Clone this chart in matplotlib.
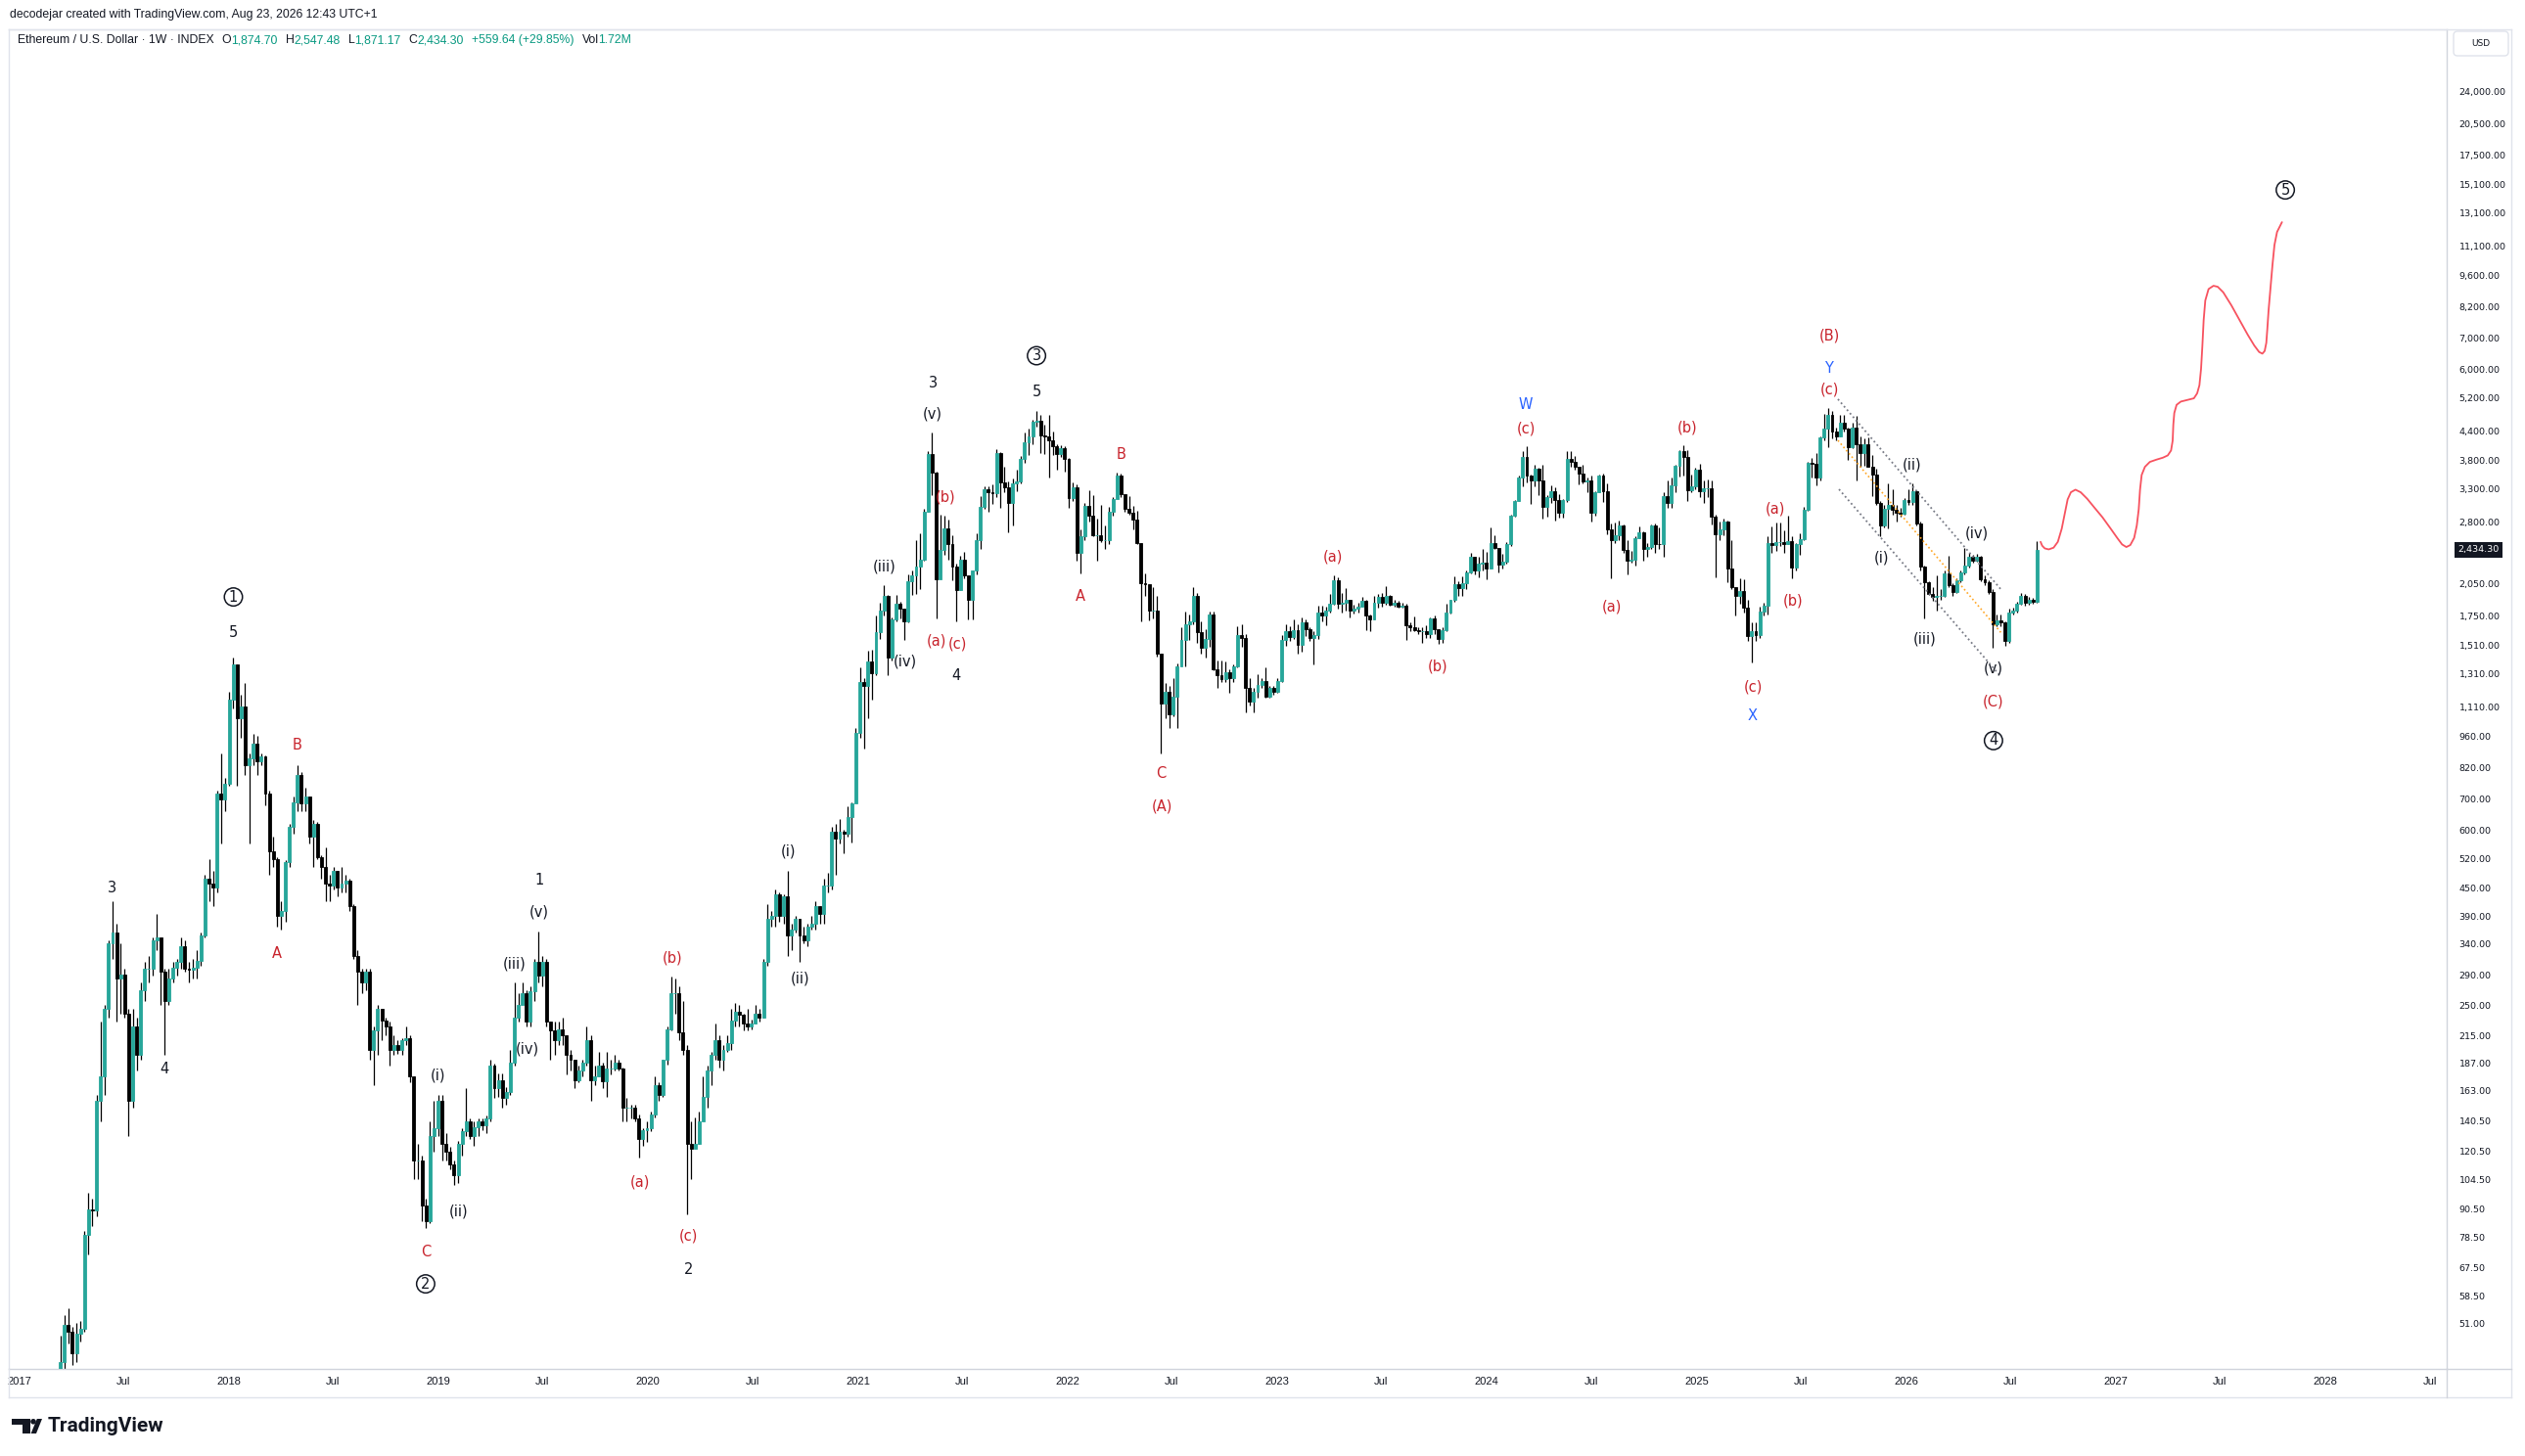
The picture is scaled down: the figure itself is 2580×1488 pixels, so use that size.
import matplotlib
matplotlib.use('Agg')
import matplotlib.pyplot as plt
import matplotlib.dates as mdates
from matplotlib.ticker import NullLocator
from matplotlib.patches import Polygon, Circle, FancyBboxPatch
from matplotlib.lines import Line2D
from matplotlib.transforms import IdentityTransform, blended_transform_factory
from datetime import date, timedelta

# ---------------- weekly OHLC data (open = previous close) ----------------
first_open = 8.2

c2017 = [10.2, 9.8, 10.6, 10.6, 11.3, 11.4, 12.8, 13.3, 19.1, 28.6, 42.0, 50.5, 49.0,
         43.8, 48.5, 49.5, 79.5, 90.0, 89.5, 155, 175, 245, 340, 360, 285, 292,
         240, 155, 225, 195, 270, 300, 300, 345, 350, 295, 255, 285, 302,
         310, 335, 300, 298, 302, 312, 355, 470, 460, 450, 720, 700, 755]
h2017 = [11.0, 10.9, 11.1, 11.0, 11.5, 11.7, 13.0, 13.8, 19.5, 29.5, 48.0, 53.0, 55.0,
         50.0, 51.0, 51.5, 81.0, 98.0, 95.0, 160, 230, 250, 345, 420, 375, 340,
         300, 245, 245, 235, 280, 310, 320, 350, 395, 340, 300, 300, 310,
         315, 350, 345, 310, 315, 330, 360, 480, 520, 490, 730, 880, 780]
l2017 = [7.9, 9.5, 9.6, 10.3, 10.6, 10.8, 11.4, 12.4, 15.3, 17.8, 28.0, 36.0, 46.0,
         41.5, 42.0, 46.5, 49.0, 72.0, 83.0, 87.0, 140, 160, 235, 315, 230, 240,
         235, 130, 150, 180, 190, 255, 280, 290, 330, 250, 195, 250, 280,
         290, 300, 295, 280, 285, 285, 305, 350, 420, 410, 440, 560, 660]

c2018 = [1150, 1375, 1050, 1110, 830, 860, 925, 845, 865, 720, 540, 520, 390,
         400, 510, 610, 690, 790, 685, 710, 580, 620, 525, 500, 460, 455,
         490, 450, 460, 465, 410, 320, 295, 280, 295, 200, 220, 245, 232,
         225, 200, 205, 200, 210, 212, 175, 115, 115, 92, 85, 130, 135, 155]
h2018 = [1200, 1420, 1375, 1180, 1250, 880, 970, 960, 880, 870, 730, 580, 525,
         420, 515, 620, 710, 830, 800, 740, 710, 630, 625, 530, 550, 480,
         500, 490, 500, 480, 470, 415, 330, 300, 300, 300, 225, 250, 245,
         235, 230, 215, 210, 212, 225, 215, 175, 125, 118, 95, 140, 155, 160]
l2018 = [750, 1100, 750, 950, 790, 560, 830, 790, 830, 680, 480, 500, 370,
         365, 380, 500, 590, 660, 660, 660, 560, 500, 520, 470, 420, 420,
         445, 430, 440, 440, 400, 315, 250, 265, 270, 190, 168, 195, 210,
         215, 185, 195, 196, 195, 205, 170, 105, 105, 85, 82, 84, 120, 130]

c2019 = [125, 120, 113, 107, 125, 133, 140, 130, 136, 140, 137, 142,
         185, 165, 172, 157, 162, 188, 235, 250, 265, 230, 268, 310, 290,
         310, 230, 220, 210, 222, 215, 195, 190, 172, 180, 188, 210, 172, 175,
         185, 171, 182, 182, 188, 182, 150, 150, 150, 142, 128, 134, 135]
h2019 = [160, 132, 123, 115, 127, 135, 165, 142, 140, 142, 142, 144,
         190, 187, 178, 178, 166, 200, 280, 265, 280, 270, 275, 315, 362,
         320, 315, 230, 230, 230, 235, 215, 200, 190, 185, 190, 225, 215, 185,
         198, 188, 198, 190, 195, 190, 183, 157, 152, 152, 145, 135, 140]
l2019 = [115, 115, 110, 102, 103, 118, 130, 128, 124, 130, 134, 132,
         140, 157, 158, 150, 152, 160, 185, 230, 255, 225, 225, 255, 280,
         275, 225, 190, 195, 205, 205, 177, 180, 165, 170, 175, 185, 155, 168,
         175, 165, 158, 177, 180, 180, 140, 140, 142, 140, 117, 124, 126]

c2020 = [145, 168, 160, 190, 222, 265, 265, 218, 200, 125, 122, 125, 140,
         158, 180, 195, 210, 190, 200, 207, 232, 242, 238, 228, 225, 228,
         240, 235, 310, 385, 390, 435, 390, 430, 355, 365, 385, 355, 345,
         370, 375, 410, 395, 455, 455, 595, 575, 595, 590, 640, 685, 975]
h2020 = [147, 175, 170, 190, 225, 288, 285, 275, 255, 205, 140, 143, 147,
         175, 185, 198, 228, 215, 205, 215, 245, 253, 250, 240, 245, 233,
         250, 245, 315, 415, 400, 445, 440, 435, 490, 375, 390, 385, 370,
         375, 390, 420, 410, 470, 485, 610, 620, 635, 600, 675, 690, 1000]
l2020 = [133, 143, 155, 158, 186, 220, 240, 210, 195, 88, 105, 124, 125,
         145, 150, 168, 190, 183, 180, 198, 200, 225, 225, 220, 220, 222,
         228, 230, 235, 305, 370, 370, 380, 375, 320, 330, 360, 310, 340,
         335, 365, 365, 375, 375, 440, 445, 480, 560, 535, 580, 565, 690]

c2021 = [1260, 1230, 1390, 1315, 1615, 1800, 1930, 1420, 1720, 1855, 1810, 1700, 2080,
         2140, 2240, 2320, 2950, 3920, 3580, 2100, 2430, 2710, 2510, 2240, 1990, 2320,
         2140, 1900, 2190, 2555, 3010, 3300, 3240, 3230, 3940, 3410, 3330, 3070, 3390,
         3420, 3840, 4170, 4290, 4610, 4650, 4320, 4290, 4200, 4090, 3920, 4050, 3830]
h2021 = [1350, 1280, 1470, 1480, 1750, 1870, 2040, 1940, 1740, 1945, 1880, 1815, 2150,
         2190, 2550, 2640, 2990, 3980, 4380, 3600, 2900, 2890, 2830, 2620, 2270, 2360,
         2410, 2040, 2200, 2640, 3180, 3335, 3340, 3370, 4030, 3970, 3680, 3430, 3480,
         3640, 3890, 4370, 4460, 4670, 4870, 4770, 4550, 4780, 4400, 4120, 4100, 4090]
l2021 = [950, 900, 1050, 1150, 1300, 1560, 1750, 1300, 1400, 1700, 1730, 1550, 1690,
         1940, 1950, 2000, 2300, 2950, 3200, 1730, 2170, 2370, 2320, 2090, 1700, 1990,
         2110, 1720, 1720, 2150, 2450, 2990, 2950, 3060, 3160, 3000, 3240, 2650, 2750,
         3260, 3400, 3750, 3900, 4130, 4500, 3950, 3920, 3500, 3900, 3640, 3880, 3600]

c2022 = [3150, 3330, 2400, 2600, 3030, 2880, 2620, 2620, 2550, 2560, 2950, 3140, 3520,
         3210, 2990, 2930, 2830, 2520, 2060, 2050, 1800, 1800, 1450, 1130, 1200, 1070,
         1170, 1360, 1550, 1680, 1700, 1930, 1610, 1490, 1560, 1760, 1340, 1300, 1275,
         1320, 1280, 1360, 1590, 1570, 1220, 1140, 1200, 1240, 1265, 1170, 1220, 1200]
h2022 = [3850, 3410, 3380, 2700, 3070, 3280, 3200, 2850, 3050, 2750, 3010, 3160, 3580,
         3560, 3210, 3180, 3030, 2960, 2520, 2160, 2050, 2020, 1930, 1450, 1250, 1230,
         1280, 1380, 1650, 1790, 1760, 2020, 1960, 1700, 1640, 1790, 1790, 1400, 1400,
         1390, 1340, 1370, 1660, 1680, 1600, 1280, 1220, 1310, 1280, 1350, 1230, 1230]
l2022 = [3000, 3100, 2300, 2160, 2550, 2800, 2600, 2300, 2530, 2450, 2500, 2880, 3270,
         3160, 2950, 2900, 2700, 2510, 1700, 1930, 1710, 1730, 1430, 880, 1050, 1000,
         1060, 1000, 1370, 1360, 1550, 1680, 1530, 1450, 1420, 1500, 1330, 1220, 1260,
         1260, 1190, 1260, 1350, 1500, 1080, 1120, 1080, 1160, 1220, 1160, 1160, 1180]

c2023 = [1265, 1550, 1625, 1575, 1630, 1515, 1690, 1640, 1565, 1590, 1780, 1750, 1795,
         1860, 2095, 1860, 1870, 1900, 1800, 1810, 1830, 1890, 1750, 1720, 1870, 1920,
         1865, 1930, 1850, 1870, 1830, 1845, 1670, 1655, 1630, 1620, 1625, 1595, 1730,
         1635, 1560, 1630, 1780, 1895, 2050, 2015, 2065, 2170, 2350, 2200, 2270, 2280]
h2023 = [1280, 1590, 1680, 1660, 1720, 1680, 1740, 1720, 1650, 1620, 1840, 1840, 1830,
         1950, 2140, 2120, 1960, 2010, 1900, 1850, 1870, 1925, 1900, 1760, 1930, 1950,
         1960, 2030, 1940, 1900, 1890, 1870, 1860, 1690, 1745, 1650, 1650, 1670, 1740,
         1750, 1640, 1650, 1860, 1900, 2130, 2080, 2130, 2190, 2400, 2340, 2350, 2450]
l2023 = [1190, 1260, 1510, 1540, 1560, 1450, 1460, 1580, 1540, 1370, 1560, 1700, 1670,
         1780, 1850, 1810, 1780, 1800, 1740, 1770, 1780, 1840, 1630, 1620, 1720, 1820,
         1830, 1850, 1840, 1830, 1820, 1820, 1550, 1620, 1620, 1600, 1530, 1570, 1570,
         1600, 1520, 1530, 1620, 1770, 1880, 1930, 1930, 2000, 2160, 2150, 2120, 2200]

c2024 = [2220, 2520, 2460, 2265, 2290, 2500, 2880, 3110, 3490, 3880, 3520, 3450, 3650,
         3450, 3010, 3160, 3260, 3120, 2930, 3120, 3830, 3780, 3690, 3560, 3420, 3440,
         2930, 3250, 3530, 3270, 2690, 2560, 2620, 2750, 2430, 2300, 2320, 2580, 2660, 2440,
         2470, 2750, 2510, 2500, 3180, 3080, 3360, 3700, 3990, 3870, 3280, 3350, 3630]
h2024 = [2410, 2720, 2620, 2460, 2390, 2535, 2900, 3120, 3520, 3990, 4090, 3550, 3730,
         3660, 3730, 3200, 3360, 3320, 3220, 3140, 3980, 3980, 3890, 3690, 3720, 3500,
         3520, 3260, 3550, 3560, 3400, 2780, 2790, 2820, 2760, 2560, 2420, 2600, 2730, 2670,
         2520, 2760, 2770, 2720, 3250, 3450, 3500, 3730, 4010, 4110, 4000, 3550, 3670]
l2024 = [2100, 2220, 2450, 2170, 2220, 2270, 2480, 2870, 3100, 3350, 3410, 3060, 3350,
         3200, 2850, 2870, 3070, 2820, 2860, 2860, 3090, 3680, 3640, 3370, 3390, 3240,
         2810, 2880, 3240, 3090, 2630, 2110, 2520, 2550, 2400, 2150, 2280, 2250, 2580, 2310,
         2350, 2450, 2400, 2440, 2350, 3000, 3000, 3250, 3510, 3520, 3100, 3250, 3300]

c2025 = [3270, 3310, 3310, 2870, 2630, 2690, 2810, 2220, 2020, 1930, 1985, 1820, 1580,
         1620, 1590, 1790, 1840, 2520, 2490, 2530, 2530, 2510, 2540, 2230, 2500, 2570,
         2970, 3760, 3740, 3490, 4260, 4470, 4780, 4390, 4300, 4600, 4450, 4070, 4480,
         4120, 3940, 4120, 3690, 3545, 3080, 2750, 2980, 3040, 2970, 2930, 2910, 3120]
h2025 = [3740, 3450, 3460, 3440, 2900, 2800, 2850, 2820, 2550, 2020, 2110, 2100, 1900,
         1690, 1690, 1830, 1870, 2600, 2730, 2790, 2790, 2680, 2880, 2600, 2520, 2640,
         3020, 3770, 3860, 3940, 4300, 4790, 4950, 4870, 4490, 4770, 4770, 4480, 4590,
         4750, 4290, 4250, 4260, 3900, 3650, 3100, 3050, 3400, 3300, 3050, 3000, 3150]
l2025 = [3160, 3080, 3170, 2760, 2120, 2550, 2620, 2070, 2000, 1750, 1860, 1780, 1540,
         1385, 1540, 1570, 1750, 1760, 2400, 2420, 2480, 2400, 2500, 2110, 2190, 2370,
         2550, 2960, 3500, 3360, 3450, 4200, 4070, 4250, 4200, 4290, 4400, 3820, 4040,
         3440, 3680, 3710, 3680, 3190, 3050, 2600, 2720, 2710, 2900, 2800, 2870, 2900]

c2026 = [3090, 3260, 2780, 2240, 2070, 1955, 1925, 1930, 1935, 2160, 2035, 1970, 2090,
         2170, 2250, 2345, 2300, 2345, 2100, 2070, 1970, 1675, 1710, 1690, 1540, 1775,
         1795, 1860, 1935, 1865, 1895, 1874.70, 2434.30]
h2026 = [3300, 3400, 3280, 2800, 2250, 2080, 2020, 2140, 2000, 2190, 2360, 2060, 2110,
         2190, 2460, 2400, 2370, 2380, 2360, 2140, 2090, 2000, 1760, 1760, 1700, 1810,
         1820, 1880, 1960, 1950, 1920, 1915, 2547.48]
l2026 = [3050, 3050, 2750, 2200, 1730, 1940, 1890, 1800, 1900, 1920, 2020, 1930, 1960,
         2070, 2150, 2230, 2280, 2290, 2080, 2040, 1950, 1495, 1660, 1660, 1505, 1530,
         1760, 1780, 1850, 1840, 1850, 1855, 1871.17]

year_starts = [date(2017, 1, 2), date(2018, 1, 1), date(2019, 1, 7), date(2020, 1, 6),
               date(2021, 1, 4), date(2022, 1, 3), date(2023, 1, 2), date(2024, 1, 1),
               date(2025, 1, 6), date(2026, 1, 5)]
closes_by_year = [c2017, c2018, c2019, c2020, c2021, c2022, c2023, c2024, c2025, c2026]
highs_by_year = [h2017, h2018, h2019, h2020, h2021, h2022, h2023, h2024, h2025, h2026]
lows_by_year = [l2017, l2018, l2019, l2020, l2021, l2022, l2023, l2024, l2025, l2026]

# price-axis tick values
ytick_vals = [51, 58.5, 67.5, 78.5, 90.5, 104.5, 120.5, 140.5, 163, 187, 215, 250, 290,
              340, 390, 450, 520, 600, 700, 820, 960, 1110, 1310, 1510, 1750, 2050,
              2800, 3300, 3800, 4400, 5200, 6000, 7000, 8200, 9600, 11100, 13100,
              15100, 17500, 20500, 24000]

# Elliott wave labels: text, decimal year, price, colour key ('k','r','b','c'=circled)
lab_text = ["3", "4", "1", "5", "B", "A", "(i)", "(ii)", "C", "2",
            "(iii)", "(iv)", "(v)", "1", "(b)", "(a)", "(c)", "2",
            "(i)", "(ii)", "(iii)", "(iv)", "3", "(v)", "(b)", "(a)", "(c)", "4",
            "3", "5", "B", "A", "C", "(A)",
            "(a)", "(b)", "W", "(c)", "(a)", "(b)", "(c)", "X", "(a)", "(b)",
            "(B)", "Y", "(c)", "(ii)", "(i)", "(iii)", "(iv)", "(v)", "(C)", "4", "5"]
lab_year = [2017.4435, 2017.691, 2018.020, 2018.020, 2018.326, 2018.228, 2018.998, 2019.092, 2018.937, 2018.937,
            2019.362, 2019.423, 2019.479, 2019.479, 2020.114, 2019.960, 2020.189, 2020.189,
            2020.669, 2020.725, 2021.127, 2021.225, 2021.356, 2021.356, 2021.416, 2021.374, 2021.473, 2021.468,
            2021.851, 2021.851, 2022.257, 2022.061, 2022.444, 2022.448,
            2023.265, 2023.765, 2024.185, 2024.185, 2024.596, 2024.955, 2025.268, 2025.268, 2025.375, 2025.459,
            2025.632, 2025.628, 2025.632, 2026.029, 2025.880, 2026.090, 2026.337, 2026.416, 2026.416, 2026.416, 2027.808]
lab_price = [448, 182, 1923, 1608, 915, 323, 176, 89.2, 73.0, 62.1,
             307, 201, 398, 466, 316, 103.3, 78.9, 66.8,
             539, 285.5, 2239, 1393, 5598, 4798, 3167, 1543, 1521, 1295,
             6421, 5369, 3928, 1932, 794, 675,
             2351, 1360, 5039, 4468, 1831, 4481, 1226, 1064, 2987, 1886,
             7098, 6040, 5421, 3722, 2339, 1559, 2643, 1347, 1140, 938, 14700]
lab_kind = ['k', 'k', 'c', 'k', 'r', 'r', 'k', 'k', 'r', 'c',
            'k', 'k', 'k', 'k', 'r', 'r', 'r', 'k',
            'k', 'k', 'k', 'k', 'k', 'k', 'r', 'r', 'r', 'k',
            'c', 'k', 'r', 'r', 'r', 'r',
            'r', 'r', 'b', 'r', 'r', 'r', 'r', 'b', 'r', 'r',
            'r', 'b', 'r', 'k', 'k', 'k', 'k', 'k', 'r', 'c', 'c']

# channel trend lines (decimal year, price)
chan_upper_year = [2025.674, 2026.454]
chan_upper_price = [5168, 1991]
chan_lower_year = [2025.679, 2026.445]
chan_lower_price = [3294, 1301]
chan_mid_year = [2025.674, 2026.454]
chan_mid_price = [4205, 1605]

# hand drawn projection path, traced (decimal year, price)
proj_year = [2026.6405, 2026.6483, 2026.6607, 2026.6794, 2026.7027, 2026.7230, 2026.7416, 2026.7572,
             2026.7697, 2026.7852, 2026.8070, 2026.8319, 2026.8630, 2026.8973, 2026.9362, 2026.9751,
             2027.0062, 2027.0295, 2027.0498, 2027.0685, 2027.0871, 2027.0996, 2027.1089, 2027.1151,
             2027.1229, 2027.1385, 2027.1618, 2027.1929, 2027.2241, 2027.2474, 2027.2630, 2027.2707,
             2027.2739, 2027.2785, 2027.2894, 2027.3097, 2027.3408, 2027.3719, 2027.3875, 2027.3984,
             2027.4061, 2027.4124, 2027.4186, 2027.4264, 2027.4420, 2027.4653, 2027.4855, 2027.5120,
             2027.5509, 2027.5898, 2027.6287, 2027.6598, 2027.6831, 2027.6987, 2027.7096, 2027.7174,
             2027.7220, 2027.7283, 2027.7376, 2027.7470, 2027.7563, 2027.7687, 2027.7921]
proj_price = [2533, 2484, 2451, 2439, 2460, 2533, 2705, 2934,
              3131, 3245, 3287, 3245, 3141, 3006, 2862, 2705,
              2583, 2500, 2468, 2492, 2583, 2748, 2981, 3287,
              3538, 3685, 3776, 3819, 3857, 3901, 3998, 4199,
              4556, 4823, 5022, 5105, 5147, 5189, 5319, 5539,
              6008, 6735, 7673, 8462, 8959, 9106, 9062, 8814,
              8257, 7673, 7131, 6758, 6541, 6487, 6574, 6846,
              7307, 8058, 9032, 10124, 11165, 11917, 12513]

# ---------------- figure ----------------
W, H = 2580, 1488
fig = plt.figure(figsize=(W / 100, H / 100), dpi=100)
fig.patch.set_facecolor('white')

AX_L, AX_R, AX_T, AX_B = 9, 2500, 30, 1399
ax = fig.add_axes([AX_L / W, 1 - AX_B / H, (AX_R - AX_L) / W, (AX_B - AX_T) / H])
ax.set_yscale('log')

UP = '#26a69a'
DN = '#000000'
RED = '#c8232c'
BLUE = '#2962ff'
INK = '#131722'
GRID = '#e0e3eb'
SANS = ['Liberation Sans', 'DejaVu Sans']

dates, opens, highs, lows, closes = [], [], [], [], []
prev = first_open
for start, cs, hs, ls in zip(year_starts, closes_by_year, highs_by_year, lows_by_year):
    for i in range(len(cs)):
        dates.append(start + timedelta(days=7 * i))
        opens.append(prev)
        closes.append(cs[i])
        highs.append(hs[i])
        lows.append(ls[i])
        prev = cs[i]

xs = mdates.date2num(dates)
ax.vlines(xs, lows, highs, color='#000000', lw=0.9, zorder=2)
bot = [min(o, c) for o, c in zip(opens, closes)]
hgt = [max(abs(c - o), 1e-9) for o, c in zip(opens, closes)]
cols = [UP if c >= o else DN for o, c in zip(opens, closes)]
ax.bar(xs, hgt, bottom=bot, width=5.0, color=cols, edgecolor=cols, linewidth=0.6, zorder=3)

x0 = mdates.date2num(date(2017, 1, 1))
def yr(t):
    return x0 + (t - 2017) * 365.25

px_per_day = 214.2 / 365.25
ax.set_xlim(x0 - 11 / px_per_day, x0 + 2480 / px_per_day)
ax.set_ylim(40.6, 32800)

# channel lines
ax.plot([yr(t) for t in chan_upper_year], chan_upper_price, color='#787b86', lw=1.3,
        linestyle=(0, (1, 1.6)), zorder=4)
ax.plot([yr(t) for t in chan_lower_year], chan_lower_price, color='#787b86', lw=1.3,
        linestyle=(0, (1, 1.6)), zorder=4)
ax.plot([yr(t) for t in chan_mid_year], chan_mid_price, color='#ffa726', lw=1.2,
        linestyle=(0, (1, 1.6)), zorder=4)

# projection
ax.plot([yr(t) for t in proj_year], proj_price, color='#f7525f', lw=1.3, zorder=4,
        solid_joinstyle='round', solid_capstyle='round')

# wave labels
for s, t, p, k in zip(lab_text, lab_year, lab_price, lab_kind):
    if k == 'c':
        ax.text(yr(t), p, s, ha='center', va='center', fontsize=10.5, color=INK,
                family='DejaVu Sans', zorder=6,
                bbox=dict(boxstyle='circle,pad=0.12', fc='none', ec=INK, lw=1.1))
    else:
        col = {'k': INK, 'r': RED, 'b': BLUE}[k]
        ax.text(yr(t), p, s, ha='center', va='center', fontsize=10.5, color=col,
                family='DejaVu Sans', zorder=6)

# axes styling
for side in ['top', 'left']:
    ax.spines[side].set_color(GRID)
    ax.spines[side].set_linewidth(1.0)
for side in ['right', 'bottom']:
    ax.spines[side].set_color('#d1d4dc')
    ax.spines[side].set_linewidth(1.0)

ax.yaxis.tick_right()
ax.set_yticks(ytick_vals)
ax.set_yticklabels([f'{v:,.2f}' for v in ytick_vals])
ax.yaxis.set_minor_locator(NullLocator())
ax.tick_params(axis='y', length=0, pad=9, labelsize=6.8, labelcolor=INK)

xt, xl = [], []
for y_ in range(2017, 2029):
    xt.append(mdates.date2num(date(y_, 1, 1))); xl.append(str(y_))
    xt.append(mdates.date2num(date(y_, 7, 1))); xl.append('Jul')
ax.set_xticks(xt)
ax.set_xticklabels(xl, family=SANS)
ax.xaxis.set_minor_locator(NullLocator())
ax.tick_params(axis='x', length=0, pad=6, labelsize=8, labelcolor=INK)

# last price tag
tr = blended_transform_factory(ax.transAxes, ax.transData)
last = closes[-1]
ax.text(1.0045, last, f'{last:,.2f}', transform=tr, ha='left', va='center', color='white',
        fontsize=6.8, zorder=7, clip_on=False,
        bbox=dict(boxstyle='square,pad=0.35', fc='#131722', ec='none'))

# frame lines (pixel coords from top-left)
def L(x1, y1, x2, y2, c=GRID, lw=1.0):
    fig.add_artist(Line2D([x1, x2], [H - y1, H - y2], transform=IdentityTransform(),
                          color=c, lw=lw))
L(AX_L, AX_T, 2566, AX_T)
L(2566, AX_T, 2566, 1428)
L(AX_L, 1428, 2566, 1428)
L(AX_L, AX_B, AX_L, 1428)
L(AX_R, AX_B, 2566, AX_B, c='#d1d4dc')
L(AX_R, AX_B, AX_R, 1428, c='#d1d4dc')

# USD box
fig.add_artist(FancyBboxPatch((2507, H - 57), 56, 25, boxstyle='round,pad=0,rounding_size=4',
                              transform=IdentityTransform(), fc='white', ec=GRID, lw=1.0))
fig.text(2535 / W, 1 - 44.5 / H, 'USD', ha='center', va='center', fontsize=6.5, color=INK)

# header
fig.text(10 / W, 1 - 15 / H, 'decodejar created with TradingView.com, Aug 23, 2026 12:43 UTC+1',
         ha='left', va='center', fontsize=8.8, color=INK, family=SANS)
renderer = fig.canvas.get_renderer()
TEAL = '#089981'
pieces = [("Ethereum / U.S. Dollar \u00b7 1W \u00b7 INDEX", INK, 0), ("O", INK, 8), ("1,874.70", TEAL, 0),
          ("H", INK, 8), ("2,547.48", TEAL, 0), ("L", INK, 8), ("1,871.17", TEAL, 0),
          ("C", INK, 8), ("2,434.30", TEAL, 0), ("+559.64 (+29.85%)", TEAL, 8),
          ("Vol", INK, 8), ("1.72M", TEAL, 0)]
xp = 18
for s, c, gap in pieces:
    xp += gap
    t_ = fig.text(xp / W, 1 - 41 / H, s, ha='left', va='center', fontsize=8.8, color=c, family=SANS)
    xp += t_.get_window_extent(renderer).width

# TradingView logo
logo_c = '#131722'
fig.add_artist(Polygon([(12, H - 1450), (30.5, H - 1450), (30.5, H - 1465), (22.5, H - 1465),
                        (22.5, H - 1456), (12, H - 1456)], closed=True,
                       transform=IdentityTransform(), fc=logo_c, ec='none'))
fig.add_artist(Circle((34, H - 1452.8), 2.8, transform=IdentityTransform(), fc=logo_c, ec='none'))
fig.add_artist(Polygon([(37.8, H - 1450), (43, H - 1450), (37, H - 1465), (31.6, H - 1465)],
                       closed=True, transform=IdentityTransform(), fc=logo_c, ec='none'))
fig.text(49 / W, 1 - 1457.5 / H, 'TradingView', ha='left', va='center', fontsize=15,
         fontweight='bold', color=logo_c, family=['Roboto', 'DejaVu Sans'])

fig.savefig('out.png', dpi=100, facecolor='white')
